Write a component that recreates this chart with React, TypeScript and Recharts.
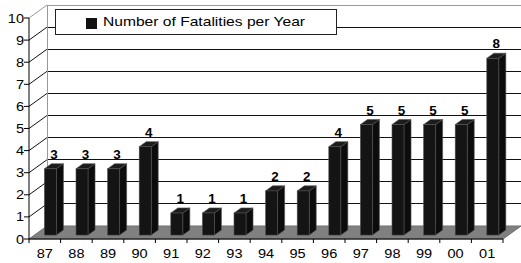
import React from 'react';
import { BarChart, Bar, XAxis, YAxis, CartesianGrid, Legend, LabelList } from 'recharts';

const years = ['87', '88', '89', '90', '91', '92', '93', '94', '95', '96', '97', '98', '99', '00', '01'];
const fatalities = [3, 3, 3, 4, 1, 1, 1, 2, 2, 4, 5, 5, 5, 5, 8];
const yTicks = [0, 1, 2, 3, 4, 5, 6, 7, 8, 9, 10];
const seriesName = 'Number of Fatalities per Year';

const data = years.map((year, i) => ({ year, fatalities: fatalities[i] }));

// layout of the fake 3D box (front plane = recharts plot area)
const W = 521;
const H = 263;
const LEFT = 29;
const RIGHT = 18;
const TOP = 18;
const XAXIS_H = 24;
const PLOT_BOTTOM = H - XAXIS_H;
const DX = 18; // depth offset to back wall
const DY = 13;
const F0 = 0.3; // bar front face depth
const F1 = 0.69; // bar back face depth
const STRETCH = 1.12; // source picture text is a bit wide

const FONT = 'Arial, "Liberation Sans", sans-serif';

const GridLine3D = (props: any) => {
  const { x1, x2, y1, index } = props;
  const bx1 = x1 + DX;
  const bx2 = x2 + DX;
  const by = y1 - DY;
  const isFloor = Math.abs(y1 - PLOT_BOTTOM) < 0.5;
  const isTop = Math.abs(y1 - TOP) < 0.5;

  if (isFloor) {
    return (
      <g key={`g-${index}`}>
        <polygon
          points={`${x1},${y1} ${x2},${y1} ${bx2},${by} ${bx1},${by}`}
          fill="#808080"
          stroke="#6e6e6e"
          strokeWidth={1}
        />
      </g>
    );
  }
  const stroke = isTop ? '#999' : '#111';
  return (
    <g key={`g-${index}`}>
      <line x1={x1} y1={y1} x2={bx1} y2={by} stroke={stroke} strokeWidth={1} />
      <line x1={bx1} y1={by} x2={bx2} y2={by} stroke={stroke} strokeWidth={1} shapeRendering="crispEdges" />
      {isTop && (
        <line x1={bx1} y1={by} x2={bx1} y2={PLOT_BOTTOM - DY} stroke="#999" strokeWidth={1} shapeRendering="crispEdges" />
      )}
    </g>
  );
};

const Bar3D = (props: any) => {
  const { x, y, width, height } = props;
  if (x == null || height == null) return null;
  const d = (F1 - F0) * DX;
  const dv = (F1 - F0) * DY;
  const fx = x + F0 * DX;
  const fy = y - F0 * DY;
  const edge = '#505050';
  return (
    <g>
      <polygon
        points={`${fx + width},${fy} ${fx + width + d},${fy - dv} ${fx + width + d},${fy + height - dv} ${fx + width},${fy + height}`}
        fill="#0c0c0c"
        stroke={edge}
        strokeWidth={0.6}
      />
      <polygon
        points={`${fx},${fy} ${fx + d},${fy - dv} ${fx + width + d},${fy - dv} ${fx + width},${fy}`}
        fill="#1c1c1c"
        stroke={edge}
        strokeWidth={0.6}
      />
      <rect x={fx} y={fy} width={width} height={height} fill="#141414" stroke={edge} strokeWidth={0.6} />
    </g>
  );
};

const ValueLabel = (props: any) => {
  const { x, y, width, value } = props;
  const d = (F1 - F0) * DX;
  const dv = (F1 - F0) * DY;
  const cx = x + F0 * DX + (width + d) / 2;
  const cy = y - F0 * DY - dv - 5;
  return (
    <text
      transform={`translate(${cx},${cy}) scale(${STRETCH},1)`}
      textAnchor="middle"
      fontFamily={FONT}
      fontSize={12}
      fontWeight="bold"
      fill="#000"
    >
      {value}
    </text>
  );
};

const XTick = (props: any) => {
  const { x, y, payload, index } = props;
  const band = (W - LEFT - RIGHT) / years.length;
  const left = x - band / 2;
  return (
    <g>
      <line x1={left} y1={y} x2={left} y2={y + 4} stroke="#000" />
      {index === years.length - 1 && <line x1={left + band} y1={y} x2={left + band} y2={y + 4} stroke="#000" />}
      <text
        transform={`translate(${x},${y + 19}) scale(${STRETCH},1)`}
        textAnchor="middle"
        fontFamily={FONT}
        fontSize={13}
        fill="#000"
      >
        {payload.value}
      </text>
    </g>
  );
};

const YTick = (props: any) => {
  const { x, y, payload } = props;
  return (
    <g>
      <line x1={x - 5} y1={y} x2={x} y2={y} stroke="#000" />
      <text
        transform={`translate(${x - 5},${y + 4.5}) scale(${STRETCH},1)`}
        textAnchor="end"
        fontFamily={FONT}
        fontSize={13}
        fill="#000"
      >
        {payload.value}
      </text>
    </g>
  );
};

const LegendBox = (props: any) => {
  const item = props.payload && props.payload[0];
  return (
    <div
      style={{
        width: 282,
        height: 26,
        boxSizing: 'border-box',
        border: '1px solid #222',
        background: '#fff',
        position: 'relative',
        fontFamily: FONT,
        fontSize: 13,
        color: '#000',
      }}
    >
      <span style={{ position: 'absolute', left: 30, top: 8, width: 11, height: 11, background: '#111' }} />
      <span
        style={{
          position: 'absolute',
          left: 47,
          top: 4,
          whiteSpace: 'nowrap',
          transform: 'scaleX(1.2)',
          transformOrigin: 'left center',
        }}
      >
        {item ? item.value : seriesName}
      </span>
    </div>
  );
};

export default function App() {
  return (
    <div style={{ position: 'absolute', left: 0, top: 0, width: W, height: H, background: '#fff' }}>
      <BarChart
        width={W}
        height={H}
        data={data}
        margin={{ top: TOP, right: RIGHT, bottom: 0, left: 0 }}
      >
        <CartesianGrid horizontal={GridLine3D} vertical={false} />
        <XAxis
          dataKey="year"
          height={XAXIS_H}
          axisLine={{ stroke: '#000' }}
          tickLine={false}
          tickSize={0}
          tickMargin={0}
          interval={0}
          tick={<XTick />}
        />
        <YAxis
          domain={[0, 10]}
          ticks={yTicks}
          width={LEFT}
          axisLine={{ stroke: '#000' }}
          tickLine={false}
          tickSize={0}
          tickMargin={0}
          interval={0}
          tick={<YTick />}
        />
        <Legend
          layout="horizontal"
          verticalAlign="middle"
          align="center"
          content={<LegendBox />}
          wrapperStyle={{ top: 9, left: 55, width: 282, height: 26 }}
        />
        <Bar dataKey="fatalities" name={seriesName} fill="#111" barSize={12} shape={<Bar3D />} isAnimationActive={false}>
          <LabelList dataKey="fatalities" content={<ValueLabel />} />
        </Bar>
      </BarChart>
    </div>
  );
}
